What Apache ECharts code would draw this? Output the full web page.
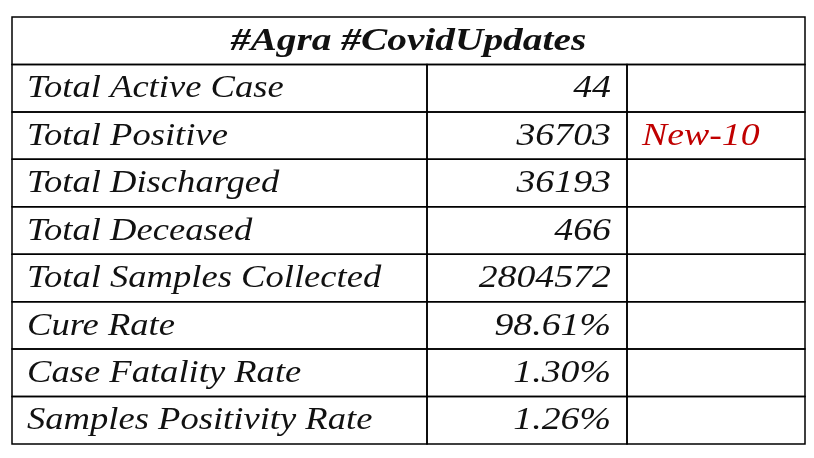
<!DOCTYPE html>
<html><head><meta charset="utf-8">
<script src="https://cdn.jsdelivr.net/npm/echarts@6/dist/echarts.min.js"></script>
<style>html,body{margin:0;padding:0;background:#fff}#c{width:814px;height:458px}</style>
</head><body><div id="c"></div>
<script>
const title = "#Agra #CovidUpdates";
const labels = ["Total Active Case","Total Positive","Total Discharged","Total Deceased","Total Samples Collected","Cure Rate","Case Fatality Rate","Samples Positivity Rate"];
const values = ["44","36703","36193","466","2804572","98.61%","1.30%","1.26%"];
const notes = ["","New-10","","","","","",""];

const colEdges = [0, 415, 615, 793];
const data = [[0, -1, title]];
labels.forEach((l,i)=>{ data.push([i+1,0,l]); data.push([i+1,1,values[i]]); data.push([i+1,2,notes[i]]); });

const chart = echarts.init(document.getElementById('c'));
chart.setOption({
  animation:false,
  grid:{left:12,right:9,top:17,bottom:14},
  xAxis:{type:'value',min:0,max:793,show:false},
  yAxis:{type:'value',min:0,max:9,inverse:true,show:false},
  series:[{
    type:'custom',
    data:data,
    renderItem:function(params,api){
      const row=api.value(0), col=api.value(1), txt=data[params.dataIndex][2];
      const x0 = col<0?colEdges[0]:colEdges[col], x1 = col<0?colEdges[3]:colEdges[col+1];
      const p0=api.coord([x0,row]), p1=api.coord([x1,row+1]);
      const children=[{type:'rect',shape:{x:p0[0],y:p0[1],width:p1[0]-p0[0],height:p1[1]-p0[1]},
        style:{fill:'none',stroke:'#000',lineWidth:1.5}}];
      let tx, align, fill='#111', weight='normal', size=31, sx=1.18;
      if(col<0){tx=(p0[0]+p1[0])/2;align='center';weight='bold';size=31;sx=1.27;}
      else if(col===0){tx=p0[0]+15;align='left';}
      else if(col===1){tx=p1[0]-16;align='right';sx=1.22;}
      else {tx=p0[0]+15;align='left';fill='#c00000';sx=1.22;}
      const cy=(p0[1]+p1[1])/2+1;
      children.push({type:'text',x:tx,y:cy,scaleX:sx,originX:0,originY:0,
        style:{x:0,y:0,text:txt,align:align,verticalAlign:'middle',
        fill:fill,font:'italic '+weight+' '+size+'px "Liberation Serif", serif'}});
      return {type:'group',children:children};
    }
  }]
});
</script></body></html>
